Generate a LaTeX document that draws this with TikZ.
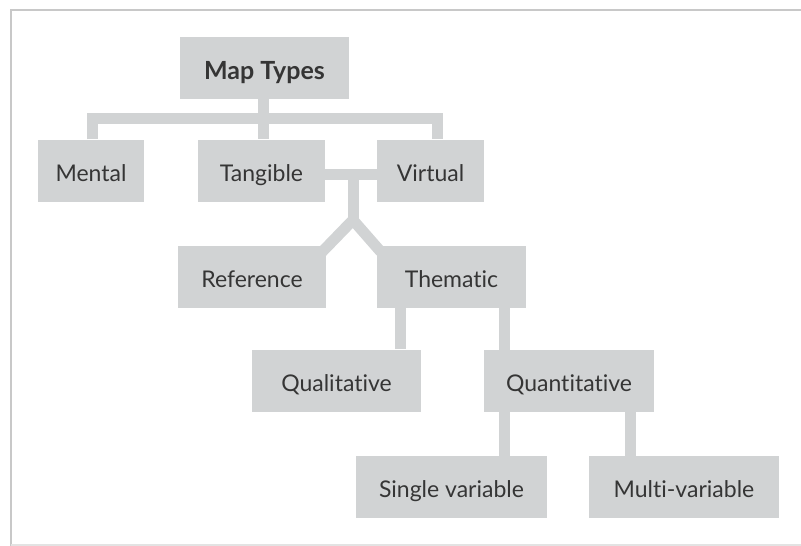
\documentclass[tikz,border=0pt]{standalone}
\usepackage{fontspec}
\setmainfont{Lato}[Ligatures=NoCommon]
\usepackage{tikz}

\definecolor{boxgray}{HTML}{D1D3D4}
\definecolor{textgray}{HTML}{353535}
\definecolor{framegray}{HTML}{C8C8C8}

\begin{document}
\begin{tikzpicture}[x=1pt, y=-1pt,
  main node/.style={fill=boxgray, inner sep=0pt, minimum height=62pt,
    text=textgray, font=\fontsize{23}{23}\selectfont,
    text height=21pt, text depth=0pt},
  top node/.style={main node, font=\fontsize{25}{25}\selectfont\bfseries,
    text height=23pt},
  link/.style={draw=boxgray, line width=11pt}]
\useasboundingbox (0,0) rectangle (801,546);
% frame
\draw[framegray, line width=2pt] (11,546) -- (11,10) -- (801,10);
\draw[framegray!50, line width=1.5pt] (11,545) -- (801,545);

\node[top node, minimum width=169pt]  (mt)   at (264.5,68)  {Map Types};
\node[main node, minimum width=106pt] (men)  at (91,170.5)  {Mental};
\node[main node, minimum width=127pt] (tan)  at (261.5,170.5) {Tangible};
\node[main node, minimum width=107pt] (vir)  at (430.5,170.5) {Virtual};
\node[main node, minimum width=148pt] (ref)  at (252,277)   {Reference};
\node[main node, minimum width=149pt] (the)  at (451.5,277) {Thematic};
\node[main node, minimum width=169pt] (qual) at (336.5,380.5) {Qualitative};
\node[main node, minimum width=170pt] (quan) at (569,381)   {Quantitative};
\node[main node, minimum width=191pt] (sin)  at (451.5,487) {Single variable};
\node[main node, minimum width=190pt] (mul)  at (684,487)   {Multi-variable};

% junctions
\coordinate (j1) at (263,118);
\coordinate (j2) at (353,220);

\draw[link] (mt.south -| j1) -- (j1);
\draw[link] ([xshift=1pt]men.north) |- (j1) -| ([xshift=6.5pt]vir.north);
\draw[link] (j1) -- (j1 |- tan.north);
\draw[link] ([yshift=-4pt]tan.east) -- ([yshift=-4pt]vir.west);
\draw[link] (j2 |- tan.east) -- (j2);
\draw[link] (j2) -- ([xshift=-4pt, yshift=-6pt]ref.north east);
\draw[link] (j2) -- ([xshift=4pt, yshift=-6pt]the.north west);
\draw[link] ([xshift=23.5pt]the.south west) -- ([xshift=23.5pt]the.south west |- qual.north);
\draw[link] ([xshift=-21.5pt]the.south east) -- ([xshift=-21.5pt]the.south east |- quan.north);
\draw[link] ([xshift=20.5pt]quan.south west) -- ([xshift=20.5pt]quan.south west |- sin.north);
\draw[link] ([xshift=-23.5pt]quan.south east) -- ([xshift=-23.5pt]quan.south east |- mul.north);
\end{tikzpicture}
\end{document}
